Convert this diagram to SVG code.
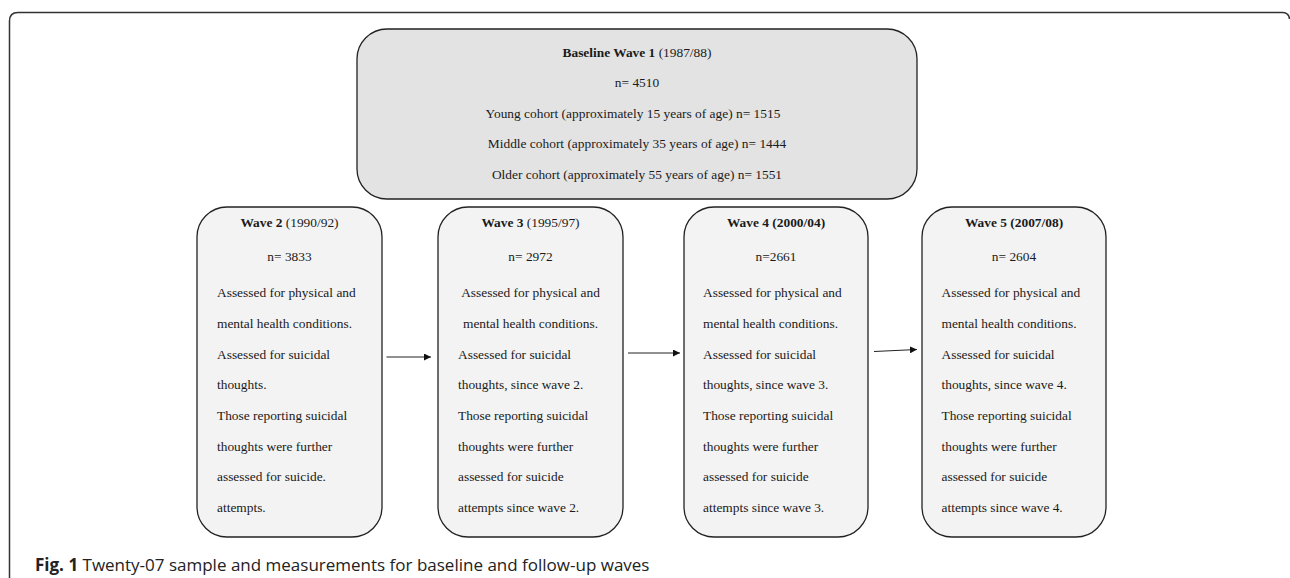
<svg xmlns="http://www.w3.org/2000/svg" width="1290" height="578" viewBox="0 0 1290 578">
<style>
.frame{fill:none;stroke:#333;stroke-width:1.5}
.box{stroke:#222;stroke-width:1.3}
.base{fill:#e3e3e3}
.wave{fill:#f3f3f3}
text{font-family:"Liberation Serif","Times New Roman",serif;font-size:13.4px;fill:#1a1a1a}
.c{text-anchor:middle}
.b{font-weight:bold}
.cap{font-family:"Open Sans","Noto Sans",sans-serif;font-size:17px;fill:#222}
.conn{stroke:#222;stroke-width:1;fill:none}
</style>
<defs>
<marker id="ah" viewBox="0 0 8 8" refX="8" refY="4" markerWidth="7" markerHeight="7" markerUnits="userSpaceOnUse" orient="auto">
<path d="M0,0 L8,4 L0,8 Z" fill="#111"/>
</marker>
</defs>
<path class="frame" d="M9.5,578 V21 Q9.5,12.5 18,12.5 H1282 Q1289,12.5 1289.5,19"/>
<g id="baseline">
<rect class="box base" x="357" y="29" width="560" height="170" rx="30" ry="30"/>
<text class="c" x="637" y="56.5"><tspan class="b">Baseline Wave 1</tspan> (1987/88)</text>
<text class="c" x="637" y="87">n= 4510</text>
<text class="c" x="633" y="117.5">Young cohort (approximately 15 years of age) n= 1515</text>
<text class="c" x="637" y="148">Middle cohort (approximately 35 years of age) n= 1444</text>
<text class="c" x="637" y="178.5">Older cohort (approximately 55 years of age) n= 1551</text>
</g>
<g id="wave2">
<rect class="box wave" x="197" y="207" width="185" height="330" rx="30" ry="30"/>
<text class="c" x="289.5" y="227"><tspan class="b">Wave 2</tspan> (1990/92)</text>
<text class="c" x="289.5" y="260.5">n= 3833</text>
<text x="217" y="297">Assessed for physical and</text>
<text x="217" y="327.5">mental health conditions.</text>
<text x="217" y="358.5">Assessed for suicidal</text>
<text x="217" y="389">thoughts.</text>
<text x="217" y="419.5">Those reporting suicidal</text>
<text x="217" y="450.5">thoughts were further</text>
<text x="217" y="481">assessed for suicide.</text>
<text x="217" y="512">attempts.</text>
</g>
<g id="wave3">
<rect class="box wave" x="438" y="207" width="185" height="330" rx="30" ry="30"/>
<text class="c" x="530.5" y="227"><tspan class="b">Wave 3</tspan> (1995/97)</text>
<text class="c" x="530.5" y="260.5">n= 2972</text>
<text class="c" x="530.5" y="297">Assessed for physical and</text>
<text class="c" x="530.5" y="327.5">mental health conditions.</text>
<text x="458" y="358.5">Assessed for suicidal</text>
<text x="458" y="389">thoughts, since wave 2.</text>
<text x="458" y="419.5">Those reporting suicidal</text>
<text x="458" y="450.5">thoughts were further</text>
<text x="458" y="481">assessed for suicide</text>
<text x="458" y="512">attempts since wave 2.</text>
</g>
<g id="wave4">
<rect class="box wave" x="684" y="207" width="184" height="330" rx="30" ry="30"/>
<text class="c b" x="776" y="227">Wave 4 (2000/04)</text>
<text class="c" x="776" y="260.5">n=2661</text>
<text x="703" y="297">Assessed for physical and</text>
<text x="703" y="327.5">mental health conditions.</text>
<text x="703" y="358.5">Assessed for suicidal</text>
<text x="703" y="389">thoughts, since wave 3.</text>
<text x="703" y="419.5">Those reporting suicidal</text>
<text x="703" y="450.5">thoughts were further</text>
<text x="703" y="481">assessed for suicide</text>
<text x="703" y="512">attempts since wave 3.</text>
</g>
<g id="wave5">
<rect class="box wave" x="922" y="207" width="184" height="330" rx="30" ry="30"/>
<text class="c b" x="1014" y="227">Wave 5 (2007/08)</text>
<text class="c" x="1014" y="260.5">n= 2604</text>
<text x="941.5" y="297">Assessed for physical and</text>
<text x="941.5" y="327.5">mental health conditions.</text>
<text x="941.5" y="358.5">Assessed for suicidal</text>
<text x="941.5" y="389">thoughts, since wave 4.</text>
<text x="941.5" y="419.5">Those reporting suicidal</text>
<text x="941.5" y="450.5">thoughts were further</text>
<text x="941.5" y="481">assessed for suicide</text>
<text x="941.5" y="512">attempts since wave 4.</text>
</g>
<g id="connectors">
<line class="conn" x1="386.5" y1="357" x2="431" y2="357" marker-end="url(#ah)"/>
<line class="conn" x1="628" y1="353" x2="680" y2="353" marker-end="url(#ah)"/>
<line class="conn" x1="874" y1="351.5" x2="917" y2="349.5" marker-end="url(#ah)"/>
</g>
<text class="cap" x="35" y="571"><tspan font-weight="bold">Fig. 1</tspan> Twenty-07 sample and measurements for baseline and follow-up waves</text>
</svg>
